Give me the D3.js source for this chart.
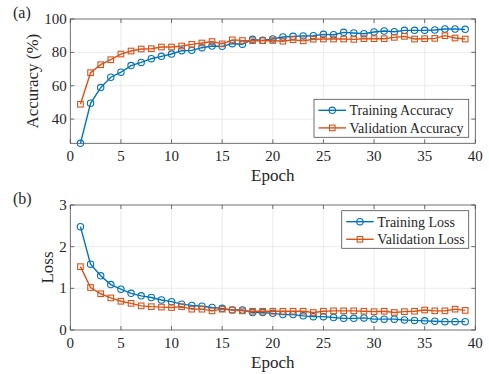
<!DOCTYPE html>
<html>
<head>
<meta charset="utf-8">
<script src="https://cdn.jsdelivr.net/npm/d3@7"></script>
<style>
  body { margin: 0; background: #fff; }
  svg text { font-family: "Liberation Serif", "Times New Roman", serif; fill: #262626; }
</style>
</head>
<body>
<svg id="chart" width="489" height="374"></svg>
<script>
// epochs 1..39
const epochs = d3.range(1, 40);

const trainAcc = [25.5, 49.5, 58.9, 65.1, 68.1, 72.1, 74.0, 76.2, 77.6, 79.0,
  81.0, 81.2, 82.8, 83.8, 83.6, 85.2, 84.9, 87.8, 87.2, 88.0,
  89.2, 89.6, 89.8, 90.0, 90.8, 90.6, 92.0, 91.6, 91.2, 92.2,
  92.8, 92.4, 93.2, 93.2, 93.2, 93.4, 94.0, 94.0, 93.8];
const valAcc = [48.9, 67.8, 72.6, 75.6, 79.0, 80.8, 82.0, 82.2, 83.2, 83.2,
  83.8, 84.8, 85.6, 86.5, 85.1, 87.5, 87.1, 87.0, 87.0, 87.1,
  86.7, 87.6, 86.9, 87.9, 88.0, 88.0, 88.0, 87.8, 88.2, 88.2,
  88.2, 89.0, 89.6, 88.0, 88.2, 88.4, 90.0, 88.6, 88.0];
const trainLoss = [2.48, 1.58, 1.30, 1.09, 0.98, 0.88, 0.82, 0.78, 0.72, 0.68,
  0.62, 0.59, 0.57, 0.54, 0.52, 0.48, 0.48, 0.42, 0.42, 0.40,
  0.37, 0.37, 0.34, 0.32, 0.32, 0.30, 0.28, 0.28, 0.29, 0.26,
  0.26, 0.26, 0.24, 0.23, 0.22, 0.21, 0.20, 0.20, 0.20];
const valLoss = [1.52, 1.02, 0.87, 0.77, 0.69, 0.64, 0.58, 0.56, 0.55, 0.54,
  0.56, 0.50, 0.50, 0.46, 0.50, 0.48, 0.46, 0.45, 0.45, 0.45,
  0.45, 0.45, 0.45, 0.42, 0.45, 0.46, 0.46, 0.46, 0.45, 0.44,
  0.45, 0.42, 0.44, 0.45, 0.48, 0.46, 0.46, 0.50, 0.47];

const xTicks = [0, 5, 10, 15, 20, 25, 30, 35, 40];
const accTicks = [40, 60, 80, 100];
const lossTicks = [0, 1, 2, 3];

const blue = '#0072BD';
const orange = '#D95319';

const svg = d3.select('#chart');

function drawPanel(opt) {
  const left = 70.3, right = 475.3;
  const x = d3.scaleLinear().domain([0, 40]).range([left, right]);
  const y = d3.scaleLinear().domain(opt.domain).range([opt.bottom, opt.top]);
  const g = svg.append('g');

  // grid
  g.append('g').selectAll('line').data(xTicks.slice(1, -1)).enter().append('line')
    .attr('x1', d => x(d)).attr('x2', d => x(d))
    .attr('y1', opt.top).attr('y2', opt.bottom)
    .attr('stroke', '#e6e6e6').attr('stroke-width', 0.8);
  g.append('g').selectAll('line').data(opt.yTicks.filter(t => y(t) > opt.top + 1 && y(t) < opt.bottom - 1))
    .enter().append('line')
    .attr('x1', left).attr('x2', right)
    .attr('y1', d => y(d)).attr('y2', d => y(d))
    .attr('stroke', '#e6e6e6').attr('stroke-width', 0.8);

  // series
  opt.series.forEach(s => {
    const line = d3.line().x((d, i) => x(epochs[i])).y(d => y(d));
    g.append('path').datum(s.values)
      .attr('fill', 'none').attr('stroke', s.color).attr('stroke-width', 1.4)
      .attr('d', line);
    if (s.marker === 'circle') {
      g.append('g').selectAll('circle').data(s.values).enter().append('circle')
        .attr('cx', (d, i) => x(epochs[i])).attr('cy', d => y(d)).attr('r', 3.2)
        .attr('fill', 'none').attr('stroke', s.color).attr('stroke-width', 1.1);
    } else {
      g.append('g').selectAll('rect').data(s.values).enter().append('rect')
        .attr('x', (d, i) => x(epochs[i]) - 2.8).attr('y', d => y(d) - 2.8)
        .attr('width', 5.6).attr('height', 5.6)
        .attr('fill', 'none').attr('stroke', s.color).attr('stroke-width', 1.1);
    }
  });

  // axes box with inward ticks
  const axG = g.append('g').attr('stroke', '#4d4d4d').attr('stroke-width', 0.8);
  axG.append('rect').attr('x', left).attr('y', opt.top)
    .attr('width', right - left).attr('height', opt.bottom - opt.top).attr('fill', 'none');
  xTicks.forEach(t => {
    axG.append('line').attr('x1', x(t)).attr('x2', x(t)).attr('y1', opt.bottom).attr('y2', opt.bottom - 4);
    axG.append('line').attr('x1', x(t)).attr('x2', x(t)).attr('y1', opt.top).attr('y2', opt.top + 4);
  });
  opt.yTicks.forEach(t => {
    axG.append('line').attr('x1', left).attr('x2', left + 4).attr('y1', y(t)).attr('y2', y(t));
    axG.append('line').attr('x1', right).attr('x2', right - 4).attr('y1', y(t)).attr('y2', y(t));
  });

  // tick labels
  g.append('g').selectAll('text').data(xTicks).enter().append('text')
    .attr('x', d => x(d)).attr('y', opt.bottom + 17.5)
    .attr('text-anchor', 'middle').style('font-size', '15px').text(d => d);
  g.append('g').selectAll('text').data(opt.yTicks).enter().append('text')
    .attr('x', left - 3.5).attr('y', d => y(d) + 5)
    .attr('text-anchor', 'end').style('font-size', '15px').text(d => d);

  // axis labels
  g.append('text').attr('x', (left + right) / 2).attr('y', opt.bottom + 38)
    .attr('text-anchor', 'middle').style('font-size', '17px').text('Epoch');
  g.append('text')
    .attr('transform', `translate(${opt.yLabelX},${(opt.top + opt.bottom) / 2}) rotate(-90)`)
    .attr('text-anchor', 'middle').style('font-size', '17px').text(opt.yLabel);

  // panel tag
  g.append('text').attr('x', 13).attr('y', opt.top - 1)
    .style('font-size', '16px').text(opt.tag);

  // legend
  const L = opt.legend;
  g.append('rect').attr('x', L.x).attr('y', L.y).attr('width', L.w).attr('height', L.h)
    .attr('fill', '#fff').attr('stroke', '#4d4d4d').attr('stroke-width', 0.8);
  opt.series.forEach((s, i) => {
    const cy = L.y + 11 + i * 17.6;
    const x0 = L.x + 4.5, x1 = L.x + 32;
    g.append('line').attr('x1', x0).attr('x2', x1).attr('y1', cy).attr('y2', cy)
      .attr('stroke', s.color).attr('stroke-width', 1.4);
    const mx = (x0 + x1) / 2;
    if (s.marker === 'circle') {
      g.append('circle').attr('cx', mx).attr('cy', cy).attr('r', 3.2)
        .attr('fill', 'none').attr('stroke', s.color).attr('stroke-width', 1.1);
    } else {
      g.append('rect').attr('x', mx - 2.8).attr('y', cy - 2.8).attr('width', 5.6).attr('height', 5.6)
        .attr('fill', 'none').attr('stroke', s.color).attr('stroke-width', 1.1);
    }
    g.append('text').attr('x', x1 + 3.5).attr('y', cy + 4.8)
      .style('font-size', '14px').text(s.name);
  });
}

drawPanel({
  top: 19, bottom: 143.3, domain: [25.5, 100], yTicks: accTicks,
  yLabel: 'Accuracy (%)', yLabelX: 37.5, tag: '(a)',
  legend: { x: 314, y: 99.3, w: 154.7, h: 38 },
  series: [
    { name: 'Training Accuracy', values: trainAcc, color: blue, marker: 'circle' },
    { name: 'Validation Accuracy', values: valAcc, color: orange, marker: 'square' }
  ]
});

drawPanel({
  top: 205, bottom: 330, domain: [0, 3], yTicks: lossTicks,
  yLabel: 'Loss', yLabelX: 52.5, tag: '(b)',
  legend: { x: 341.7, y: 210.7, w: 127, h: 37.6 },
  series: [
    { name: 'Training Loss', values: trainLoss, color: blue, marker: 'circle' },
    { name: 'Validation Loss', values: valLoss, color: orange, marker: 'square' }
  ]
});
</script>
</body>
</html>
